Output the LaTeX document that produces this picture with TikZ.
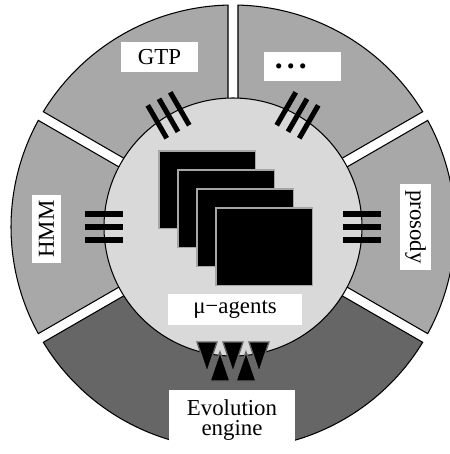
\documentclass[tikz,border=0pt]{standalone}
\usepackage{fontspec}
\setmainfont{Liberation Serif}
\definecolor{sectorgray}{gray}{0.66}
\definecolor{enginegray}{gray}{0.40}
\definecolor{coregray}{gray}{0.85}
\begin{document}
\begin{tikzpicture}[
    labelbox/.style={fill=white, inner sep=0pt, font=\fontsize{13}{11.5}\selectfont},
    bar/.style={line width=2.9pt},
    tri/.style={fill=black, draw=enginegray, line width=0.8pt}]
  % Frame of the picture
  \useasboundingbox (-4.66,-4.54) rectangle (4.34,4.54);
  \clip (-4.66,-4.54) rectangle (4.34,4.54);

  % Outer ring of modules, with white gaps between them
  \foreach \a/\b/\c in {30/90/sectorgray, 90/150/sectorgray, 150/210/sectorgray,
                        210/330/enginegray, 330/390/sectorgray} {
    \filldraw[fill=\c, draw=black, line width=0.6pt]
      ({\a+asin(0.1/4.44)}:4.44) arc[start angle={\a+asin(0.1/4.44)}, end angle={\b-asin(0.1/4.44)}, radius=4.44]
      -- ({\b-asin(0.1/2.2)}:2.2) arc[start angle={\b-asin(0.1/2.2)}, end angle={\a+asin(0.1/2.2)}, radius=2.2]
      -- cycle;
  }

  % Core
  \filldraw[fill=coregray, draw=black, line width=0.6pt] (0,0) circle (2.58);

  % Plugs between core and modules
  \foreach \a in {0,60,120,180} {
    \begin{scope}[rotate=\a]
      \foreach \o in {-0.26,0,0.26}
        \draw[bar] (2.2,\o) -- (2.96,\o);
    \end{scope}
  }

  % Stack of agents
  \foreach \i in {0,...,3} {
    \filldraw[fill=black, draw=gray!70, line width=0.6pt]
      (-1.48+0.38*\i, 1.52-0.38*\i) rectangle ++(1.93,-1.55);
  }

  % Teeth towards the evolution engine
  \foreach \x in {-0.52,0,0.52}
    \filldraw[tri] (\x-0.2,-2.3) -- (\x+0.2,-2.3) -- (\x,-2.9) -- cycle;
  \foreach \x in {-0.26,0.26}
    \filldraw[tri] (\x-0.2,-3.08) -- (\x+0.2,-3.08) -- (\x,-2.5) -- cycle;

  % Labels
  \node[labelbox, minimum width=1.54cm, minimum height=0.6cm] (gtp) at (-1.47,3.40) {GTP};
  \node[labelbox, minimum height=0.58cm, text width=1.1cm, inner xsep=0.22cm, align=left] (more) at (1.39,3.21)
    {\fontsize{18}{18}\selectfont\bfseries .\hspace{0.08cm}.\hspace{0.08cm}.};
  \node[labelbox, minimum width=1.36cm, minimum height=0.58cm, rotate=90] (hmm) at (-3.73,-0.04) {HMM};
  \node[labelbox, minimum width=1.72cm, minimum height=0.62cm, rotate=-90] (prosody) at (3.65,0) {prosody};
  \node[labelbox, minimum width=2.68cm, minimum height=0.62cm] (agents) at (0.04,-1.65) {μ−agents};
  \node[labelbox, minimum width=2.52cm, minimum height=1.2cm, align=center] (engine) at (-0.02,-3.86) {Evolution\\engine};
\end{tikzpicture}
\end{document}
